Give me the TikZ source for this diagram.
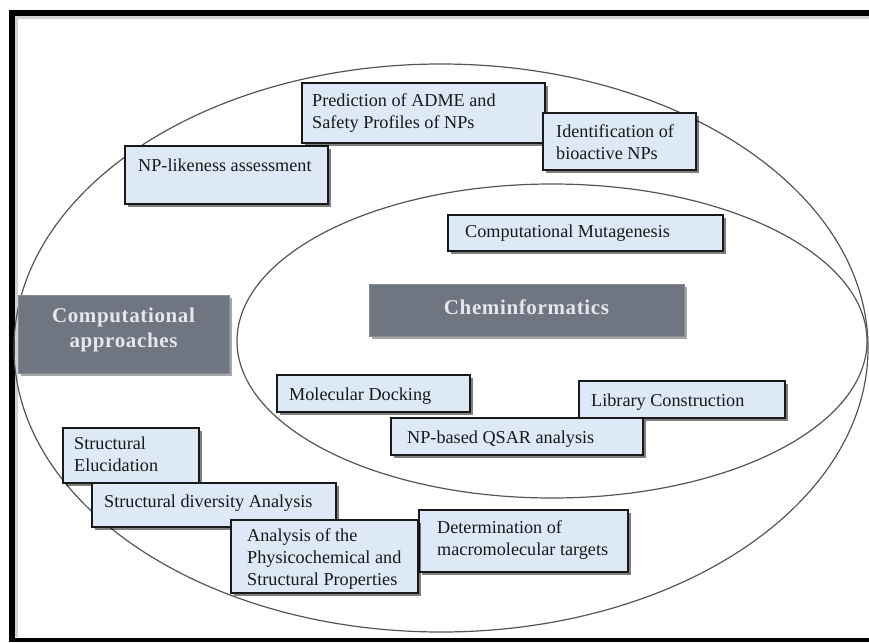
\documentclass[tikz,border=0pt]{standalone}
\usepackage{fontspec}
\setmainfont{Liberation Serif}
\newfontfamily\hdfont[LetterSpace=3]{Liberation Serif}
\usetikzlibrary{shadows,fit,shapes.geometric}
\definecolor{boxblue}{RGB}{221,233,247}
\definecolor{hdgray}{RGB}{111,118,129}
\definecolor{hdtext}{RGB}{228,232,238}
\definecolor{ringgray}{RGB}{85,85,85}
\definecolor{txt}{RGB}{25,25,25}
\begin{document}
\begin{tikzpicture}[x=1pt,y=-1pt,
  bluebox/.style={draw=black!90, line width=1.8pt, fill=boxblue, inner sep=0pt,
    drop shadow={shadow xshift=2.5pt, shadow yshift=-2.5pt, opacity=0.5, fill=black}},
  boxtext/.style={inner sep=0pt, anchor=north west, align=left, text=txt,
    font=\fontsize{18.2}{22}\selectfont},
  hdbox/.style={fill=hdgray, draw=hdgray!85!white, line width=0.8pt, inner sep=0pt,
    drop shadow={shadow xshift=2.5pt, shadow yshift=-2.5pt, opacity=0.35, fill=black}},
  hdlabel/.style={text=hdtext, font=\hdfont\bfseries\fontsize{21}{25}\selectfont,
    align=center, inner sep=0pt},
  ring/.style={ellipse, draw=ringgray, line width=1.2pt, inner sep=0pt},
  frameline/.style={draw=black, line cap=butt}]
\useasboundingbox (0,0) rectangle (869,642);
\fill[white] (0,0) rectangle (869,642);

% frame
\coordinate (ftl) at (12,13);
\coordinate (ftr) at (869,13);
\coordinate (fbl) at (12,640);
\coordinate (fbr) at (869,640);
\draw[gray!35, line width=3pt] (16.5,16) -- (16.5,637);
\draw[gray!35, line width=3pt] (15,17.5) -- (869,17.5);
\draw[frameline, line width=6.5pt] (9,13) -- (ftr);
\draw[frameline, line width=6.5pt] (ftl) ++(0,-3) -- (12,642);
\draw[frameline, line width=4pt] (9,640) -- (fbr);

% ellipses
\node[ring, minimum width=854pt, minimum height=568pt] (outer) at (441,348) {};
\node[ring, minimum width=630pt, minimum height=314pt] (inner) at (552,341) {};

% outer boxes
\node[bluebox, fit={(125,146) (328,204)}] (nplike) {};
\node[boxtext] (nplike-t) at (138,158.7) {NP-likeness assessment};

\node[bluebox, fit={(302,83) (545,143)}] (adme) {};
\node[boxtext] (adme-t) at (312,93.7) {Prediction of ADME and\\Safety Profiles of NPs};

\node[bluebox, fit={(543,113) (696,170)}] (bioact) {};
\node[boxtext] (bioact-t) at (556,124.7) {Identification of\\bioactive NPs};

% inner boxes
\node[bluebox, fit={(448,215) (723,251)}] (mutag) {};
\node[boxtext] (mutag-t) at (465,224.7) {Computational Mutagenesis};

\node[hdbox, fit={(369,284) (684,336)}] (chem) {};
\node[hdlabel] (chem-t) at (526.5,307) {Cheminformatics};

\node[hdbox, fit={(18,295) (229,373)}] (comp) {};
\node[hdlabel] (comp-t) at (123.5,330) {Computational\\approaches};

\node[bluebox, fit={(277,375) (470,412)}] (dock) {};
\node[boxtext] (dock-t) at (289,387.7) {Molecular Docking};

\node[bluebox, fit={(579,381) (785,418)}] (lib) {};
\node[boxtext] (lib-t) at (591,393.7) {Library Construction};

\node[bluebox, fit={(391,418) (643,455)}] (qsar) {};
\node[boxtext] (qsar-t) at (407,430.7) {NP-based QSAR analysis};

% lower boxes
\node[bluebox, fit={(63,428) (199,483)}] (eluc) {};
\node[boxtext] (eluc-t) at (74,436.7) {Structural\\Elucidation};

\node[bluebox, fit={(92,483) (336,527)}] (divers) {};
\node[boxtext] (divers-t) at (104,494.7) {Structural diversity Analysis};

\node[bluebox, fit={(419,510) (628,572)}] (targets) {};
\node[boxtext] (targets-t) at (437,520.7) {Determination of\\macromolecular targets};

\node[bluebox, fit={(231,520) (418,593)}] (physchem) {};
\node[boxtext] (physchem-t) at (247,528.7) {Analysis of the\\Physicochemical and\\Structural Properties};
\end{tikzpicture}
\end{document}
